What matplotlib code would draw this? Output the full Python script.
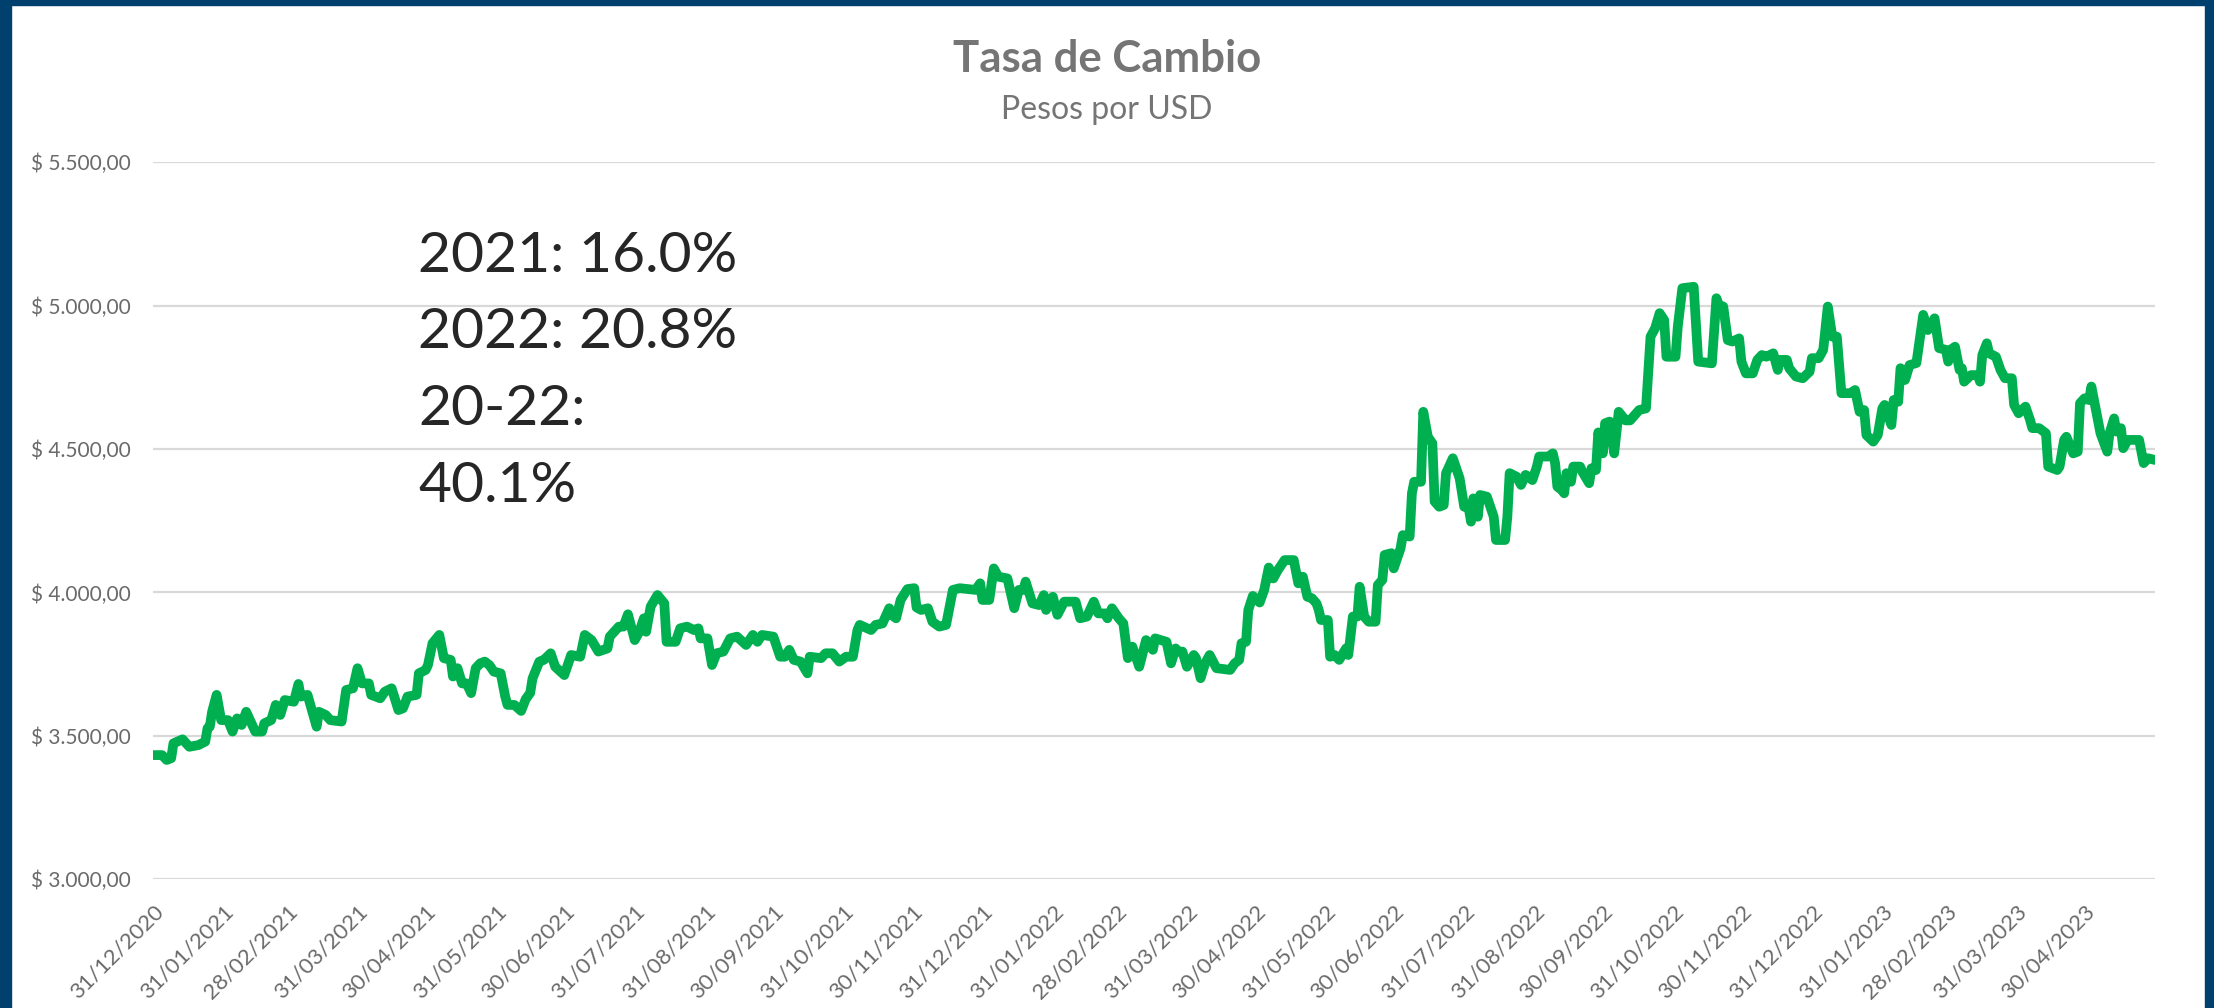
import numpy as np
import pandas as pd
import matplotlib
matplotlib.use("Agg")
import matplotlib.pyplot as plt
from matplotlib.patches import Rectangle
from matplotlib.ticker import FuncFormatter

plt.rcParams['font.family'] = ['Lato', 'DejaVu Sans']

# TRM diaria: dias contados desde el 31/12/2020 y pesos por USD
inicio = np.datetime64('2020-12-31')

dias_2021 = [0, 4, 6, 8, 9, 13, 16, 20, 23, 24, 25, 26, 28, 30, 33, 35, 37, 39, 41, 45,
             48, 49, 52, 54, 56, 58, 62, 64, 65, 68, 72, 73, 76, 78, 83, 85, 88, 90, 92, 95,
             96, 100, 102, 105, 108, 110, 112, 116, 117, 120, 121, 123, 126, 128, 131, 132, 134, 136, 138, 140,
             142, 144, 146, 148, 150, 153, 155, 156, 159, 162, 164, 166, 167, 170, 172, 175, 177, 181, 184, 188,
             190, 193, 196, 200, 201, 205, 207, 209, 212, 214, 216, 217, 219, 222, 225, 226, 230, 232, 235, 238,
             240, 241, 244, 246, 248, 251, 254, 257, 261, 264, 266, 268, 273, 276, 278, 280, 282, 285, 288, 289,
             294, 296, 299, 302, 305, 308, 310, 311, 316, 318, 321, 324, 325, 327, 329, 332, 335, 336, 338, 341,
             343, 346, 349, 352, 355, 362, 364]
trm_2021 = [3433, 3433, 3416, 3422, 3474, 3488, 3462, 3468, 3480, 3527, 3532, 3584, 3643, 3555, 3555, 3515, 3561, 3538, 3584, 3515,
            3515, 3544, 3555, 3608, 3573, 3625, 3619, 3681, 3637, 3643, 3532, 3584, 3573, 3555, 3550, 3660, 3666, 3736, 3683, 3683,
            3643, 3631, 3654, 3666, 3590, 3596, 3637, 3643, 3718, 3730, 3747, 3823, 3852, 3771, 3765, 3707, 3736, 3683, 3683, 3649,
            3736, 3753, 3759, 3747, 3724, 3718, 3637, 3608, 3608, 3587, 3628, 3650, 3700, 3759, 3765, 3788, 3741, 3712, 3782, 3776,
            3852, 3834, 3794, 3805, 3846, 3881, 3881, 3924, 3834, 3863, 3910, 3863, 3951, 3991, 3962, 3828, 3828, 3875, 3881, 3869,
            3875, 3840, 3840, 3747, 3788, 3794, 3840, 3846, 3817, 3852, 3828, 3852, 3846, 3776, 3776, 3800, 3765, 3759, 3718, 3776,
            3771, 3788, 3788, 3759, 3776, 3776, 3869, 3887, 3869, 3887, 3892, 3945, 3922, 3910, 3974, 4012, 4015, 3948, 3939, 3945,
            3898, 3881, 3887, 4009, 4015, 4009, 4032]

dias_2022 = [365, 368, 370, 372, 376, 379, 381, 383, 384, 387, 390, 392, 393, 396, 398, 401, 406, 408, 411, 414,
             416, 419, 420, 422, 425, 427, 429, 431, 434, 437, 440, 441, 446, 448, 450, 451, 453, 455, 458, 459,
             461, 463, 465, 468, 474, 476, 478, 479, 481, 482, 484, 487, 489, 491, 493, 495, 498, 502, 504, 506,
             508, 510, 512, 513, 514, 517, 518, 520, 522, 525, 526, 528, 530, 531, 533, 535, 538, 539, 541, 542,
             545, 546, 549, 550, 553, 554, 555, 558, 559, 561, 563, 564, 566, 568, 569, 570, 572, 575, 577, 579,
             580, 581, 583, 584, 587, 588, 590, 591, 595, 596, 597, 600, 602, 604, 607, 609, 610, 614, 616, 617,
             618, 620, 621, 622, 624, 625, 628, 629, 632, 633, 635, 636, 638, 639, 641, 643, 645, 648, 650, 654,
             657, 659, 661, 663, 665, 666, 670, 671, 673, 678, 680, 686, 688, 689, 691, 693, 695, 698, 699, 701,
             704, 706, 708, 710, 713, 715, 716, 719, 720, 723, 726, 729]
trm_2022 = [3974, 3974, 4084, 4055, 4049, 3945, 4009, 4009, 4038, 3962, 3956, 3991, 3939, 3985, 3922, 3968, 3968, 3910, 3916, 3968,
            3927, 3927, 3910, 3945, 3910, 3892, 3771, 3811, 3741, 3834, 3800, 3840, 3828, 3753, 3805, 3794, 3794, 3741, 3782, 3771,
            3701, 3753, 3782, 3736, 3730, 3753, 3765, 3823, 3828, 3939, 3988, 3965, 4009, 4087, 4049, 4078, 4113, 4113, 4032, 4055,
            3985, 3980, 3962, 3939, 3904, 3904, 3776, 3782, 3765, 3805, 3782, 3916, 3916, 4020, 3916, 3898, 3898, 4026, 4044, 4131,
            4137, 4084, 4154, 4200, 4195, 4346, 4386, 4386, 4630, 4543, 4520, 4317, 4299, 4305, 4416, 4433, 4468, 4398, 4299, 4294,
            4247, 4328, 4264, 4340, 4334, 4311, 4264, 4183, 4183, 4264, 4416, 4404, 4375, 4410, 4392, 4439, 4474, 4474, 4485, 4451,
            4369, 4357, 4346, 4416, 4386, 4439, 4439, 4421, 4381, 4433, 4427, 4558, 4485, 4590, 4596, 4485, 4630, 4600, 4600, 4636,
            4642, 4892, 4921, 4974, 4950, 4822, 4822, 4927, 5061, 5066, 4805, 4799, 5026, 5003, 4997, 4880, 4875, 4886, 4805, 4764,
            4764, 4811, 4828, 4822, 4834, 4776, 4811, 4811, 4782, 4753, 4747, 4770]

dias_2023 = [730, 733, 735, 737, 739, 741, 743, 747, 749, 751, 753, 754, 757, 759, 761, 762, 765, 766, 768, 769,
             771, 773, 776, 779, 781, 784, 785, 786, 789, 790, 791, 793, 795, 796, 797, 800, 803, 804, 805, 807,
             808, 811, 813, 815, 818, 819, 821, 824, 826, 827, 830, 833, 834, 838, 839, 841, 842, 845, 847, 848,
             850, 852, 853, 857, 860, 861, 863, 864, 866, 867, 869, 874, 876, 878, 881]
trm_2023 = [4817, 4817, 4846, 4997, 4892, 4892, 4695, 4695, 4706, 4630, 4636, 4549, 4526, 4549, 4642, 4654, 4584, 4671, 4665, 4782,
            4741, 4793, 4800, 4968, 4915, 4956, 4904, 4852, 4846, 4805, 4846, 4857, 4776, 4782, 4735, 4758, 4758, 4735, 4828, 4869,
            4834, 4822, 4776, 4747, 4747, 4654, 4625, 4648, 4602, 4573, 4573, 4555, 4439, 4427, 4439, 4532, 4543, 4485, 4491, 4660,
            4677, 4671, 4718, 4555, 4491, 4555, 4607, 4561, 4573, 4503, 4532, 4532, 4451, 4468, 4462]

etiquetas_x = ['31/12/2020', '31/01/2021', '28/02/2021', '31/03/2021', '30/04/2021', '31/05/2021',
               '30/06/2021', '31/07/2021', '31/08/2021', '30/09/2021', '31/10/2021', '30/11/2021',
               '31/12/2021', '31/01/2022', '28/02/2022', '31/03/2022', '30/04/2022', '31/05/2022',
               '30/06/2022', '31/07/2022', '31/08/2022', '30/09/2022', '31/10/2022', '30/11/2022',
               '31/12/2022', '31/01/2023', '28/02/2023', '31/03/2023', '30/04/2023']
ticks_y = [3000, 3500, 4000, 4500, 5000, 5500]

variaciones = ['2021: 16.0%', '2022: 20.8%', '20-22:', '40.1%']

dias = np.array(dias_2021 + dias_2022 + dias_2023)
trm = np.array(trm_2021 + trm_2022 + trm_2023)
fechas = (inicio + dias.astype('timedelta64[D]')).astype('datetime64[ns]')

fig = plt.figure(figsize=(22.14, 10.08), dpi=100)
fig.patch.set_facecolor('white')
ax = fig.add_axes([153 / 2214, 0.1277, 2002 / 2214, 0.7113])

ax.plot(fechas, trm, color='#00B050', lw=7, solid_joinstyle='round', solid_capstyle='round', zorder=3)

ax.set_ylim(3000, 5500)
ax.set_yticks(ticks_y)
ax.yaxis.set_major_formatter(FuncFormatter(
    lambda v, p: '$ ' + f'{v:,.2f}'.replace(',', 'X').replace('.', ',').replace('X', '.')))
ax.yaxis.grid(True, color='#D9D9D9', lw=1.6, zorder=0)
ax.set_axisbelow(True)

tick_fechas = pd.to_datetime(etiquetas_x, format='%d/%m/%Y')
ax.set_xlim(inicio.astype('datetime64[ns]'), (inicio + np.timedelta64(881, 'D')).astype('datetime64[ns]'))
ax.set_xticks(tick_fechas)
ax.set_xticklabels(etiquetas_x, rotation=45, ha='right', va='top', rotation_mode='anchor')

for s in ax.spines.values():
    s.set_visible(False)
ax.tick_params(axis='both', length=0, colors='#6A6A6A', labelsize=16)
ax.tick_params(axis='y', pad=16, labelsize=15)
ax.tick_params(axis='x', pad=16)

fig.text(0.5, 1 - 71.7 / 1008, 'Tasa de Cambio', ha='center', va='baseline',
         fontsize=31.5, fontweight='bold', color='#757575')
fig.text(0.5, 1 - 119.3 / 1008, 'Pesos por USD', ha='center', va='baseline',
         fontsize=23, color='#757575')

for i, linea in enumerate(variaciones):
    fig.text(418 / 2214, 1 - (271.7 + 76.7 * i) / 1008, linea, ha='left', va='baseline',
             fontsize=41, color='#262626')

# marco azul alrededor de la figura
azul = '#00406E'
fig.add_artist(Rectangle((0, 0), 11 / 2214, 1, transform=fig.transFigure, color=azul, zorder=10))
fig.add_artist(Rectangle((0, 1 - 5 / 1008), 1, 5 / 1008, transform=fig.transFigure, color=azul, zorder=10))
fig.add_artist(Rectangle((2205 / 2214, 0), 9 / 2214, 1, transform=fig.transFigure, color=azul, zorder=10))

fig.savefig('out.png', dpi=100)
